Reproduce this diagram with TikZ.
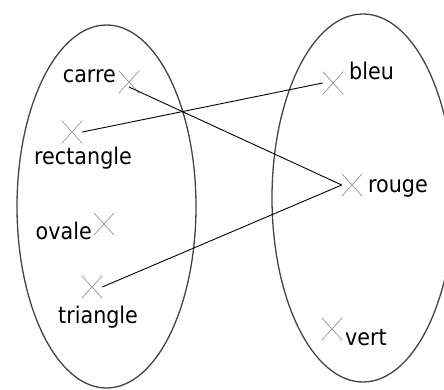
\documentclass[tikz,border=0pt]{standalone}
\usepackage{fontspec}
\setmainfont{DejaVu Sans Condensed}
\usetikzlibrary{shapes.misc}
\definecolor{setline}{HTML}{3E4742}
\definecolor{markgray}{HTML}{8A8A8A}
\tikzset{
  setbox/.style={draw=setline, line width=1.3pt},
  mark point/.style={cross out, draw=markgray, line width=0.6pt,
    minimum width=20pt, minimum height=22pt, inner sep=0pt},
  elem/.style={inner sep=0pt, font=\fontsize{23}{23}\selectfont},
  link/.style={draw=black, line width=0.9pt}
}
\begin{document}
\begin{tikzpicture}[x=1pt, y=-1pt]
  \useasboundingbox (0,0) rectangle (444,390);
  \clip (0,0) rectangle (444,390);

  % the two sets
  \draw[setbox] (106.5,206.5) ellipse [x radius=89.5pt, y radius=181.5pt];
  \draw[setbox] (363,198) ellipse [x radius=91pt, y radius=184pt];

  % elements of the first set
  \node[mark point] (carre) at (129,82) {};
  \node[mark point] (rect)  at (72,132) {};
  \node[mark point] (ovale) at (104,224) {};
  \node[mark point] (tri)   at (92,287) {};

  % elements of the second set
  \node[mark point] (bleu)  at (333,83) {};
  \node[mark point] (rouge) at (352,185) {};
  \node[mark point] (vert)  at (332,329) {};

  % labels
  \node[elem, anchor=base east] (lcarre) at (116,83) {carre};
  \node[elem, anchor=base west] (lrect)  at (34,165) {rectangle};
  \node[elem, anchor=base east] (lovale) at (92,239) {ovale};
  \node[elem, anchor=base west] (ltri)   at (58,323) {triangle};
  \node[elem, anchor=base west] (lbleu)  at (349,80) {bleu};
  \node[elem, anchor=base west] (lrouge) at (368,193) {rouge};
  \node[elem, anchor=base west] (lvert)  at (345,345) {vert};

  % the relation
  \draw[link] ([yshift=-5pt]carre.center) -- (rouge.west);
  \draw[link] (rect.east) -- (bleu.west);
  \draw[link] (tri.east) -- (rouge.west);
\end{tikzpicture}
\end{document}
